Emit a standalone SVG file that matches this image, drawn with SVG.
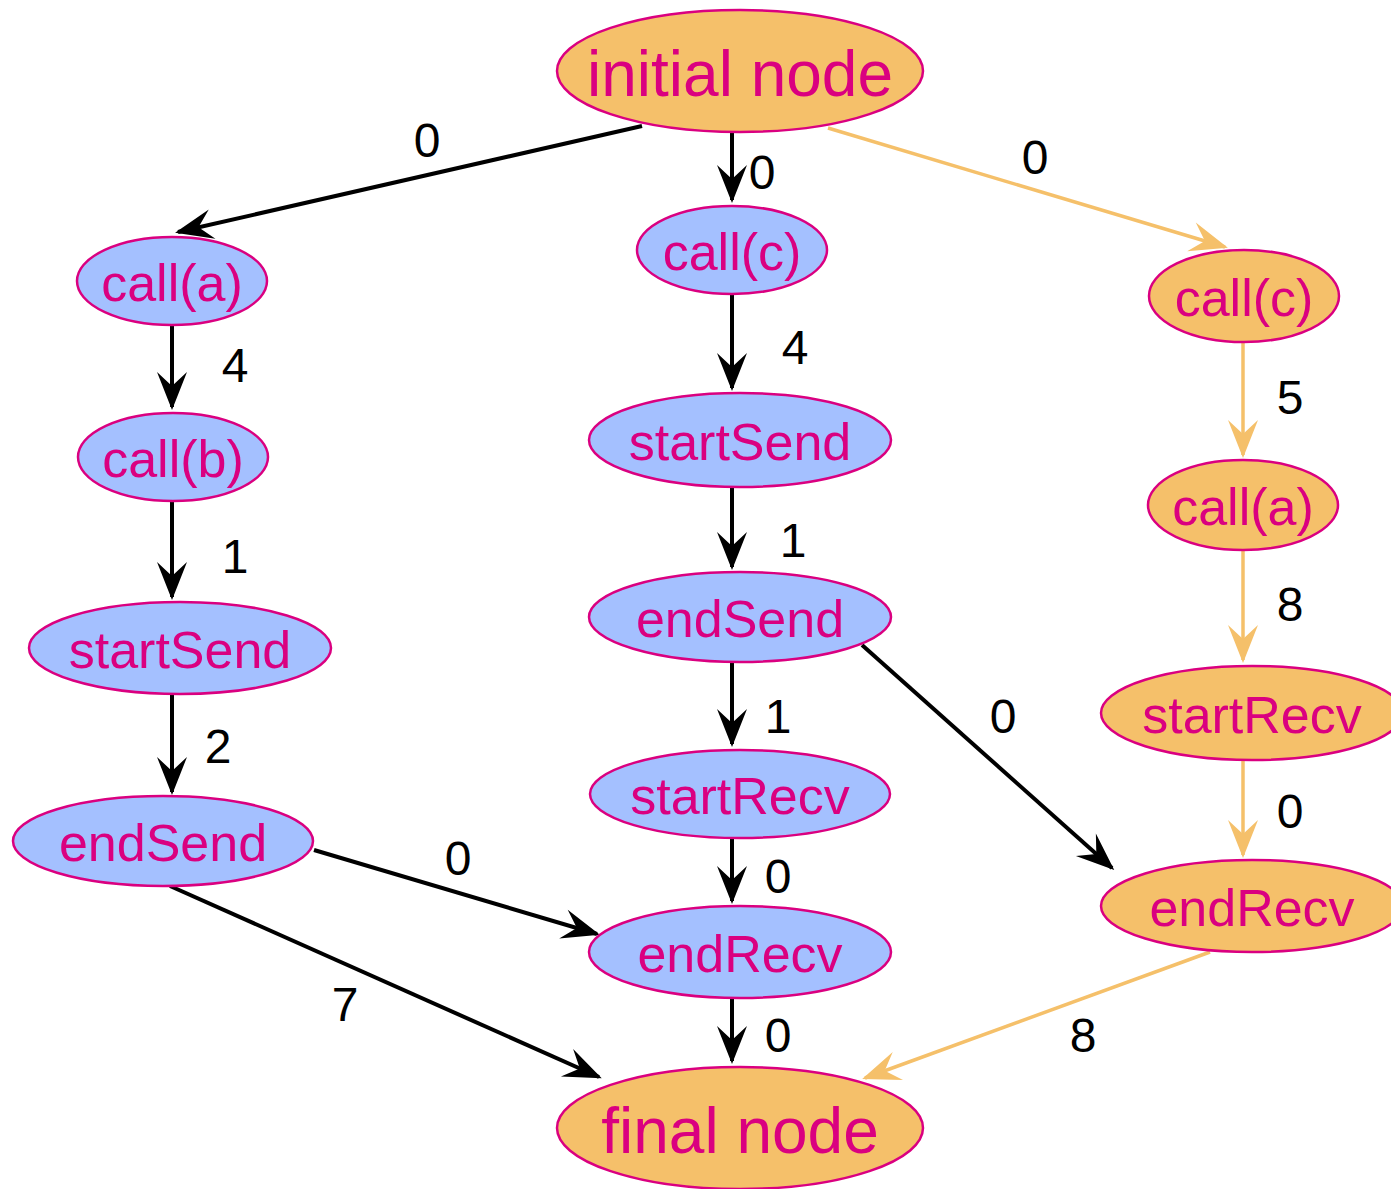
<svg xmlns="http://www.w3.org/2000/svg" width="1391" height="1189" viewBox="0 0 1391 1189">
<style>
.nb ellipse{fill:#A4C0FF;stroke:#DA0080;stroke-width:2.5}
.no ellipse{fill:#F5C06A;stroke:#DA0080;stroke-width:2.5}
.n text{font-family:"Liberation Sans",Arial,sans-serif;font-size:52px;fill:#DA0080;text-anchor:middle}
.big text{font-size:64px}
.e line{stroke:#000;stroke-width:4;marker-end:url(#ab)}
.e line.o{stroke:#F5C06A;stroke-width:3.5;marker-end:url(#ao)}
.lbl text{font-family:"Liberation Sans",Arial,sans-serif;font-size:48px;fill:#000;text-anchor:middle}
</style>
<defs>
<marker id="ab" markerUnits="userSpaceOnUse" viewBox="-40 -18 44 36" markerWidth="44" markerHeight="36" refX="-3" refY="0" orient="auto">
<path d="M0,0 L-38,-15 L-24,0 L-38,15 Z" fill="#000"/>
</marker>
<marker id="ao" markerUnits="userSpaceOnUse" viewBox="-40 -18 44 36" markerWidth="44" markerHeight="36" refX="-3" refY="0" orient="auto">
<path d="M0,0 L-38,-15 L-24,0 L-38,15 Z" fill="#F5C06A"/>
</marker>
</defs>
<g id="edges" class="e">
<line x1="642" y1="126" x2="178" y2="232"/>
<line x1="732" y1="133" x2="732" y2="200"/>
<line class="o" x1="828" y1="128" x2="1225" y2="247"/>
<line x1="172" y1="325" x2="172" y2="407"/>
<line x1="172" y1="502" x2="172" y2="597"/>
<line x1="172" y1="694" x2="172" y2="792"/>
<line x1="314" y1="850" x2="597" y2="934"/>
<line x1="170" y1="886" x2="599" y2="1077"/>
<line x1="732" y1="294" x2="732" y2="388"/>
<line x1="732" y1="487" x2="732" y2="567"/>
<line x1="732" y1="662" x2="732" y2="744"/>
<line x1="732" y1="838" x2="732" y2="901"/>
<line x1="732" y1="998" x2="732" y2="1061"/>
<line x1="862" y1="645" x2="1112" y2="868"/>
<line class="o" x1="1243" y1="342" x2="1243" y2="455"/>
<line class="o" x1="1243" y1="550" x2="1243" y2="660"/>
<line class="o" x1="1243" y1="760" x2="1243" y2="855"/>
<line class="o" x1="1210" y1="952" x2="865" y2="1078"/>
</g>
<g id="labels" class="lbl">
<text x="427" y="157">0</text>
<text x="762" y="189">0</text>
<text x="1035" y="174">0</text>
<text x="235" y="382">4</text>
<text x="235" y="573">1</text>
<text x="218" y="763">2</text>
<text x="458" y="875">0</text>
<text x="345" y="1021">7</text>
<text x="795" y="364">4</text>
<text x="793" y="557">1</text>
<text x="778" y="733">1</text>
<text x="778" y="893">0</text>
<text x="778" y="1052">0</text>
<text x="1003" y="733">0</text>
<text x="1290" y="414">5</text>
<text x="1290" y="621">8</text>
<text x="1290" y="828">0</text>
<text x="1083" y="1052">8</text>
</g>
<g id="initial" class="n no big"><ellipse cx="740" cy="71" rx="183" ry="61"/><text x="740" y="96">initial node</text></g>
<g id="callA1" class="n nb"><ellipse cx="172" cy="281" rx="95" ry="44"/><text x="172" y="301">call(a)</text></g>
<g id="callB1" class="n nb"><ellipse cx="173" cy="457" rx="95" ry="44"/><text x="173" y="477">call(b)</text></g>
<g id="startSend1" class="n nb"><ellipse cx="180" cy="648" rx="151" ry="46"/><text x="180" y="668">startSend</text></g>
<g id="endSend1" class="n nb"><ellipse cx="163" cy="841" rx="150" ry="45"/><text x="163" y="861">endSend</text></g>
<g id="callC2" class="n nb"><ellipse cx="732" cy="250" rx="95" ry="44"/><text x="732" y="270">call(c)</text></g>
<g id="startSend2" class="n nb"><ellipse cx="740" cy="440" rx="151" ry="47"/><text x="740" y="460">startSend</text></g>
<g id="endSend2" class="n nb"><ellipse cx="740" cy="617" rx="151" ry="45"/><text x="740" y="637">endSend</text></g>
<g id="startRecv2" class="n nb"><ellipse cx="740" cy="794" rx="150" ry="44"/><text x="740" y="814">startRecv</text></g>
<g id="endRecv2" class="n nb"><ellipse cx="740" cy="952" rx="151" ry="46"/><text x="740" y="972">endRecv</text></g>
<g id="final" class="n no big"><ellipse cx="740" cy="1128" rx="183" ry="61"/><text x="740" y="1153">final node</text></g>
<g id="callC3" class="n no"><ellipse cx="1244" cy="296" rx="95" ry="46"/><text x="1244" y="316">call(c)</text></g>
<g id="callA3" class="n no"><ellipse cx="1243" cy="505" rx="95" ry="45"/><text x="1243" y="525">call(a)</text></g>
<g id="startRecv3" class="n no"><ellipse cx="1252" cy="713" rx="151" ry="47"/><text x="1252" y="733">startRecv</text></g>
<g id="endRecv3" class="n no"><ellipse cx="1252" cy="906" rx="151" ry="46"/><text x="1252" y="926">endRecv</text></g>
</svg>
